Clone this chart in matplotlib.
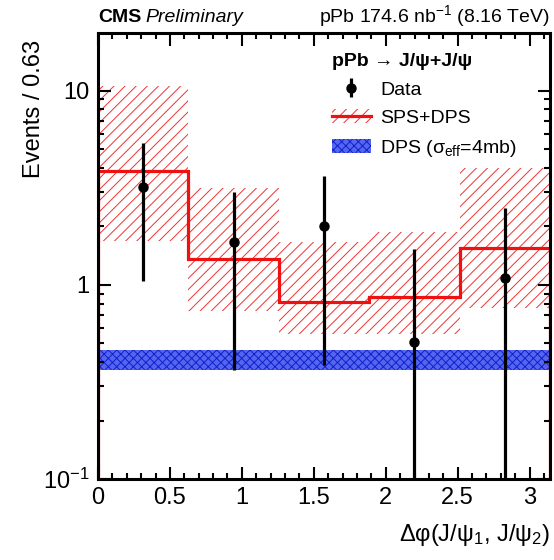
import numpy as np
import matplotlib
matplotlib.use("Agg")
import matplotlib.pyplot as plt
from matplotlib.patches import Patch
from matplotlib.lines import Line2D
from matplotlib.ticker import FixedLocator, FuncFormatter, MultipleLocator, LogLocator

plt.rcParams['font.family'] = ['Liberation Sans', 'DejaVu Sans']
plt.rcParams['mathtext.fontset'] = 'custom'
plt.rcParams['mathtext.rm'] = 'Liberation Sans'
plt.rcParams['mathtext.it'] = 'Liberation Sans:italic'
plt.rcParams['mathtext.bf'] = 'Liberation Sans:bold'
plt.rcParams['hatch.linewidth'] = 0.7

# bin edges in delta phi (5 bins of pi/5)
edges = np.linspace(0, np.pi, 6)
centers = 0.5 * (edges[:-1] + edges[1:])

# data points with asymmetric errors
data_y = [3.2, 1.67, 2.0, 0.51, 1.08]
data_up = [5.4, 2.99, 3.65, 1.52, 2.48]
data_lo = [1.05, 0.365, 0.386, 0.0, 0.0]

# SPS+DPS prediction and its band
sps_dps = [3.85, 1.35, 0.82, 0.87, 1.55]
sps_dps_hi = [10.5, 3.16, 1.66, 1.87, 3.98]
sps_dps_lo = [1.69, 0.73, 0.556, 0.556, 0.76]

# DPS (sigma_eff = 4 mb) band
dps_hi = [0.459, 0.459, 0.459, 0.459, 0.459]
dps_lo = [0.366, 0.366, 0.366, 0.366, 0.366]

fig = plt.figure(figsize=(5.54, 5.6), dpi=100)
ax = fig.add_axes([98 / 554, 1 - 479 / 560, 452 / 554, 446 / 560])

w = np.diff(edges)
# DPS band
ax.bar(edges[:-1], np.array(dps_hi) - np.array(dps_lo), bottom=dps_lo, width=w,
       align='edge', facecolor='#5566ee', edgecolor='#1020d0', hatch='xxxx', linewidth=0)
# SPS+DPS band
ax.bar(edges[:-1], np.array(sps_dps_hi) - np.array(sps_dps_lo), bottom=sps_dps_lo, width=w,
       align='edge', fill=False, edgecolor='#ee3333', hatch='///', linewidth=0)
ax.stairs(sps_dps, edges, color='#ee1111', linewidth=2.3)

yerr = [np.array(data_y) - np.maximum(np.array(data_lo), 1e-3), np.array(data_up) - np.array(data_y)]
h_data = ax.errorbar(centers, data_y, yerr=yerr, fmt='o', color='black', markersize=6.5,
                     elinewidth=2.3, capsize=0)

ax.set_yscale('log')
ax.set_xlim(0, np.pi)
ax.set_ylim(0.1, 19.8)

ax.xaxis.set_major_locator(MultipleLocator(0.5))
ax.xaxis.set_minor_locator(MultipleLocator(0.1))
ax.xaxis.set_major_formatter(FuncFormatter(lambda v, p: '%g' % v))
ax.yaxis.set_major_locator(FixedLocator([0.1, 1, 10]))
ax.yaxis.set_minor_locator(LogLocator(base=10, subs=np.arange(2, 10)))
labels = {0.1: '10$^{-1}$', 1: '1', 10: '10'}
ax.yaxis.set_major_formatter(FuncFormatter(lambda v, p: labels.get(round(v, 3), '')))
ax.yaxis.set_minor_formatter(FuncFormatter(lambda v, p: ''))

ax.tick_params(which='both', direction='in', top=True, right=True, labelsize=17, width=1.5)
ax.tick_params(which='major', length=9, pad=6)
ax.tick_params(which='minor', length=4.5)
for s in ax.spines.values():
    s.set_linewidth(2.2)

ax.set_ylabel('Events / 0.63', fontsize=17, loc='top')
ax.yaxis.set_label_coords(-0.118, 0.985)
ax.set_xlabel('Δφ(J/ψ$_{1}$, J/ψ$_{2}$)', fontsize=17, loc='right')
ax.xaxis.set_label_coords(1.0, -0.096)

fig.text(98 / 554, 1 - 22 / 560, 'CMS', fontsize=14, fontweight='bold', va='baseline')
fig.text(145 / 554, 1 - 22 / 560, 'Preliminary', fontsize=14, style='italic', va='baseline')
fig.text(550 / 554, 1 - 22 / 560, 'pPb 174.6 nb$^{-1}$ (8.16 TeV)', fontsize=14,
         ha='right', va='baseline')

h_sps = (Patch(fill=False, edgecolor='#ee3333', hatch='///', linewidth=0),
         Line2D([], [], color='#ee1111', linewidth=2.3))
h_dps = Patch(facecolor='#5566ee', edgecolor='#1020d0', hatch='xxxx', linewidth=0)
leg = ax.legend([h_data, h_sps, h_dps], ['Data', 'SPS+DPS', 'DPS (σ$_{\\mathrm{eff}}$=4mb)'],
                title='pPb → J/ψ+J/ψ', alignment='left', frameon=False, fontsize=14,
                title_fontproperties={'weight': 'bold', 'size': 14},
                loc='upper left', bbox_to_anchor=(0.5, 0.972), handlelength=2.0,
                labelspacing=0.55, handletextpad=0.5, borderaxespad=0)

fig.savefig('out.png', dpi=100)
